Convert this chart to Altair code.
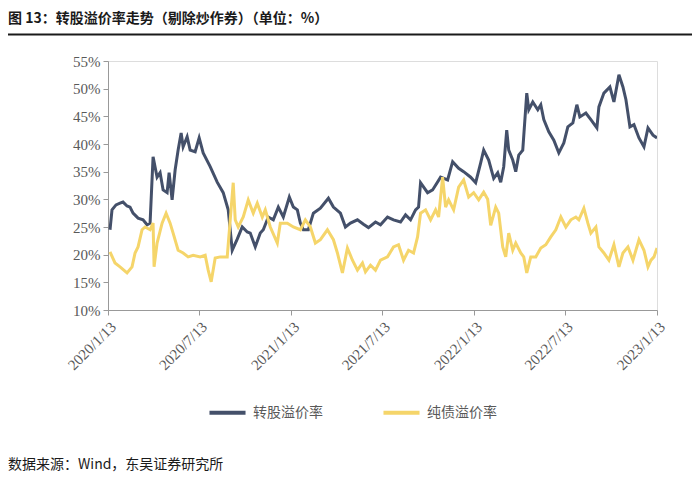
import altair as alt
import pandas as pd

start = "2020-01-13"

# days since 2020-01-13 and values (%)
conv_days = [4, 8, 16, 24, 30, 38, 44, 50, 60, 70,
             78, 84, 90, 98, 104, 110, 118, 122, 128, 134,
             140, 146, 150, 158, 164, 174, 182, 190, 204, 218,
             230, 240, 248, 258, 268, 278, 284, 294, 304, 310,
             320, 330, 340, 350, 362, 370, 378, 384, 390, 400,
             410, 424, 440, 450, 464, 474, 484, 498, 510, 520,
             534, 544, 558, 570, 584, 594, 604, 614, 620, 624,
             638, 648, 664, 678, 688, 700, 710, 724, 734, 744,
             750, 760, 770, 778, 784, 790, 796, 800, 808, 814,
             820, 828, 836, 840, 848, 858, 864, 870, 880, 890,
             900, 910, 918, 928, 936, 942, 954, 964, 976, 980,
             990, 1002, 1010, 1020, 1028, 1034, 1042, 1050, 1060, 1070,
             1078, 1088, 1096]
conv_vals = [24.5, 28.1, 29.0, 29.3, 29.5, 28.8, 28.6, 27.5, 26.6, 26.3,
             25.4, 25.7, 37.7, 34.0, 34.8, 31.7, 31.2, 34.8, 29.9, 35.3,
             38.9, 42.0, 39.5, 41.3, 38.9, 38.6, 41.1, 38.4, 35.9, 33.1,
             31.2, 28.1, 20.8, 22.8, 25.0, 24.1, 23.9, 21.4, 23.9, 24.5,
             26.8, 26.3, 28.6, 26.8, 30.4, 28.6, 28.1, 25.7, 24.5, 24.5,
             27.5, 28.4, 30.2, 28.6, 27.5, 25.0, 25.7, 26.3, 25.5, 24.9,
             25.9, 25.4, 26.8, 26.3, 25.9, 27.2, 26.3, 28.1, 28.6, 33.0,
             31.2, 31.7, 34.0, 33.5, 36.8, 35.6, 35.0, 34.0, 33.0, 36.6,
             38.9, 37.1, 33.8, 34.8, 33.1, 35.9, 42.5, 38.9, 37.1, 35.0,
             38.0, 38.9, 49.2, 46.2, 47.6, 46.2, 47.1, 44.4, 42.2, 40.7,
             38.4, 40.2, 43.1, 43.8, 47.1, 44.9, 45.6, 44.4, 42.9, 46.7,
             49.2, 50.3, 47.6, 52.5, 50.3, 48.0, 43.1, 43.5, 41.1, 39.5,
             42.9, 41.6, 41.1]

bond_days = [4, 14, 24, 38, 48, 54, 60, 68, 74, 84,
             90, 92, 98, 108, 116, 124, 130, 140, 150, 160,
             170, 184, 194, 200, 206, 214, 224, 238, 244, 250,
             254, 260, 270, 280, 290, 298, 308, 314, 324, 338,
             344, 358, 370, 384, 394, 404, 414, 424, 438, 450,
             458, 468, 478, 488, 498, 508, 514, 524, 534, 544,
             558, 570, 580, 590, 600, 610, 618, 624, 634, 644,
             654, 660, 668, 674, 680, 690, 700, 710, 720, 730,
             740, 750, 758, 764, 774, 780, 788, 794, 800, 808,
             814, 824, 830, 836, 844, 854, 864, 874, 884, 894,
             904, 914, 924, 934, 940, 950, 958, 964, 974, 980,
             990, 1000, 1010, 1020, 1028, 1038, 1048, 1060, 1070, 1078,
             1084, 1090, 1096]
bond_vals = [20.5, 18.5, 17.8, 16.7, 17.8, 20.3, 21.4, 24.5, 25.0, 24.5,
             25.7, 17.8, 22.1, 25.7, 27.5, 25.7, 23.9, 20.8, 20.3, 19.6,
             19.9, 19.6, 19.9, 17.2, 15.1, 19.4, 19.6, 19.6, 26.3, 33.0,
             26.3, 25.0, 26.8, 29.9, 27.5, 29.3, 26.8, 28.1, 25.0, 22.1,
             25.7, 25.7, 25.0, 24.5, 26.3, 25.0, 22.1, 22.7, 24.5, 22.7,
             20.3, 16.7, 21.2, 19.0, 17.2, 18.5, 16.9, 18.1, 17.2, 19.0,
             19.6, 21.4, 21.8, 19.0, 20.8, 20.3, 23.2, 27.5, 28.1, 26.3,
             28.1, 26.8, 34.0, 28.6, 29.9, 28.1, 32.2, 33.5, 30.4, 31.2,
             29.9, 31.3, 30.0, 25.3, 28.6, 27.5, 21.4, 19.6, 23.9, 20.8,
             22.1, 20.3, 19.6, 16.7, 19.6, 19.6, 21.2, 21.8, 23.2, 24.5,
             26.8, 25.0, 26.3, 26.8, 26.3, 28.4, 25.7, 23.9, 25.0, 21.4,
             20.3, 19.0, 21.8, 17.8, 20.3, 21.4, 19.0, 22.7, 20.8, 17.8,
             19.0, 19.6, 21.2]

series_names = ["转股溢价率", "纯债溢价率"]
series_colors = ["#44506A", "#F5D56A"]
tick_dates = ["2020-01-13", "2020-07-13", "2021-01-13", "2021-07-13",
              "2022-01-13", "2022-07-13", "2023-01-13"]

title_text = "图 13：转股溢价率走势（剔除炒作券）（单位：%）"
source_text = "数据来源：Wind，东吴证券研究所"

base = pd.Timestamp(start)
df = pd.concat([
    pd.DataFrame({"date": base + pd.to_timedelta(conv_days, "D"),
                  "value": [v / 100 for v in conv_vals], "series": series_names[0]}),
    pd.DataFrame({"date": base + pd.to_timedelta(bond_days, "D"),
                  "value": [v / 100 for v in bond_vals], "series": series_names[1]}),
])

tick_vals = [alt.DateTime(year=int(d[:4]), month=int(d[5:7]), date=int(d[8:])) for d in tick_dates]

serif = "Liberation Serif"
cjk = "Noto Sans CJK SC"

lines = alt.Chart(df).mark_line(strokeWidth=3, clip=True).encode(
    x=alt.X("date:T",
            scale=alt.Scale(domain=[alt.DateTime(year=2020, month=1, date=13),
                                    alt.DateTime(year=2023, month=1, date=13)]),
            axis=alt.Axis(values=tick_vals, labelExpr="timeFormat(datum.value, '%Y/%-m/%-d')",
                          labelAngle=-45, labelFont=serif, labelFontSize=15,
                          labelColor="#595959", domainColor="#999999", tickColor="#999999",
                          tickSize=5, labelPadding=4, grid=False, title=None,
                          labelFlush=False, labelOverlap=False)),
    y=alt.Y("value:Q",
            scale=alt.Scale(domain=[0.10, 0.55], nice=False),
            axis=alt.Axis(values=[0.10, 0.15, 0.20, 0.25, 0.30, 0.35, 0.40, 0.45, 0.50, 0.55],
                          format=".0%", labelFont=serif, labelFontSize=15,
                          labelColor="#595959", domainColor="#999999", tickColor="#999999",
                          tickSize=5, labelPadding=3, grid=False, title=None)),
    color=alt.Color("series:N",
                    scale=alt.Scale(domain=series_names, range=series_colors),
                    legend=alt.Legend(orient="none", legendX=99, legendY=331,
                                      direction="horizontal", title=None,
                                      symbolType="stroke", symbolStrokeWidth=4,
                                      symbolSize=1300, labelFont=cjk, labelFontSize=14,
                                      labelColor="#595959", columnPadding=52,
                                      labelOffset=5)),
)

title_mark = alt.Chart().mark_text(
    text=title_text, font=cjk, fontSize=14, fontWeight="bold", color="#1a1a1a",
    align="left", baseline="middle", clip=False
).encode(x=alt.value(-100), y=alt.value(-42))

title_rule = alt.Chart().mark_rule(color="#1a1a1a", strokeWidth=2, clip=False).encode(
    x=alt.value(-108), x2=alt.value(592), y=alt.value(-26.5))

source_mark = alt.Chart().mark_text(
    text=source_text, font=cjk, fontSize=14, color="#1a1a1a",
    align="left", baseline="middle", clip=False
).encode(x=alt.value(-100), y=alt.value(404))

chart = alt.layer(lines, title_mark, title_rule, source_mark).properties(
    width=549, height=249,
    autosize=alt.AutoSizeParams(type="none"),
    padding={"left": 100, "top": 53, "right": 35, "bottom": 163},
).configure_view(stroke=None).configure(background="white")

chart.save("out.html", embed_options={"renderer": "svg", "actions": False})
